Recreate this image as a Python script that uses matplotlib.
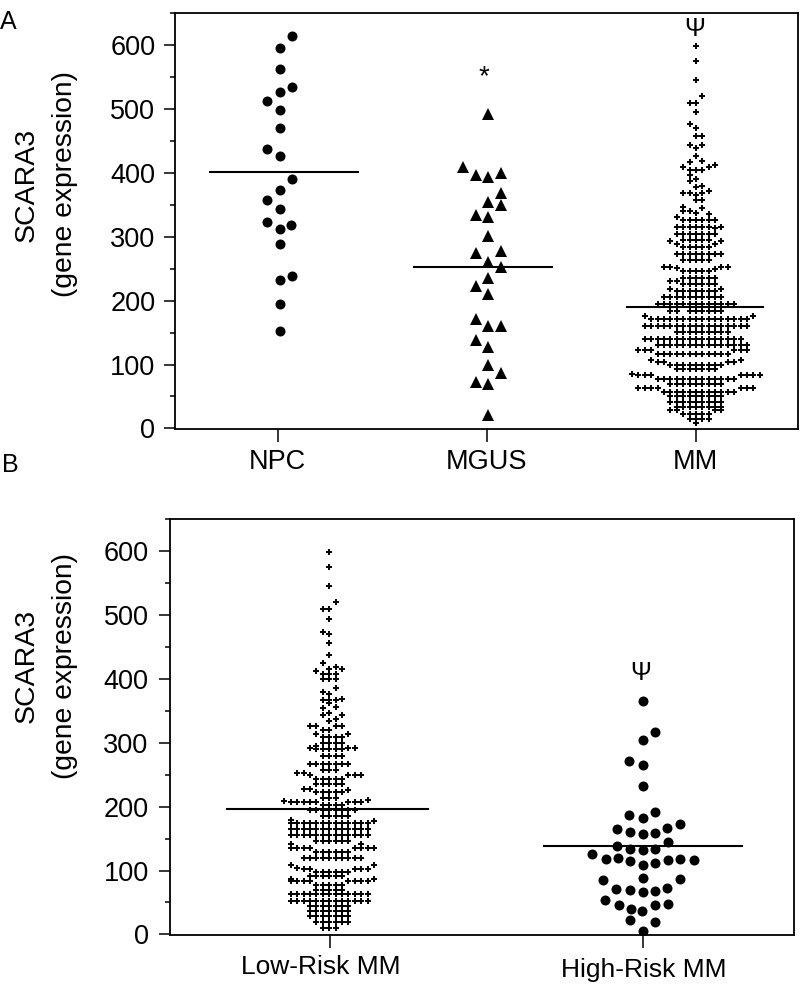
import numpy as np
import matplotlib
matplotlib.use("Agg")
import matplotlib.pyplot as plt
from matplotlib.ticker import MultipleLocator

plt.rcParams['font.family'] = ['Liberation Sans', 'DejaVu Sans']

W, H = 800, 997

# panel A, sparse groups: value and swarm column
npc_values = [615, 596, 563, 535, 527, 512, 498, 470, 438, 427, 390, 373.5, 357, 344, 323, 319, 312, 289, 238, 233, 195, 152]
npc_cols = [1, 0, 0, 1, 0, -1, 0, 0, -1, 0, 1, 0, -1, 0, -1, 0.9, 0, 0, 1, 0, 0, 0]
mgus_values = [493, 409, 396, 393, 400, 368, 354, 350.5, 334, 331, 301.5, 275, 278.5, 260, 252, 236, 223, 211,
               170.6, 161, 161, 139, 128, 99, 86.5, 73, 69, 21]
mgus_cols = [0, -2, -1, 0, 1, 1, 0, 1, -1, 0, 0, -1, 1, 0, 1, 0, -1, 0, -1, 0, 1, -1, 0, 0, 1, -1, 0, 0]

# dense swarms are read row by row: value, first column, last column
mm_values = [599, 576, 546, 521, 510, 495, 476, 471, 458, 443,
             439, 443, 427, 419, 417, 410, 410, 413, 404, 397,
             391, 388, 380, 378, 368, 365, 368, 371, 357, 346,
             345, 341, 337, 331, 336, 326, 316, 315, 314, 305,
             295, 293, 293, 288, 288, 284, 273, 263, 253, 253,
             251, 250, 246, 236, 230, 226, 219, 219, 215, 205,
             195, 184, 184, 176, 176, 171, 171, 171, 161, 151,
             140, 140, 140, 130, 122, 122, 117, 107, 107, 104, 104, 100, 93, 85,
             83, 83, 78, 70, 63, 63, 57, 50, 41, 33, 28, 28, 22, 14,
             9]
mm_first = [0, 0, 0, 1, -1, 0, -1, 0, 0, -1,
            0, 1, 0, 1, -1, -2, 2, 3, -1, -1,
            0, -1, 1, 0, -2, 0, 1, 2, 0, -2,
            1, -2, 0, -3, 2, -2, 4, -3, 3, -3,
            -2, -4, 4, -3, 3, -2, -3, -2, -5, 4,
            -3, 3, -2, -2, -4, -2, -4, 4, -3, -5,
            -6, -4, -1, -8, 9, -7, 6, -4, -8, -3,
            -8, 6, -6, -6, -9, 6, -6, -7, 7, -6, 5, -4, -3, -10,
            -9, 7, -6, -4, -9, 7, -5, -4, -4, -3, -4, 3, -2, -1,
            0]
mm_last = [0, 0, 0, 1, 0, 0, -1, 0, 1, -1,
           0, 1, 0, 1, -1, -2, 2, 3, 1, -1,
           0, -1, 1, 0, -1, 0, 1, 2, 1, -2,
           1, -1, 0, -3, 2, 3, 4, 2, 3, 3,
           2, -4, 4, -3, 3, 2, 4, 2, -4, 5,
           -3, 3, 2, 3, -3, 3, -4, 4, 3, 4,
           6, -3, 4, -8, 9, -5, 8, 5, 8, 5,
           -7, 7, 5, 8, -7, 8, 5, -7, 7, -5, 6, 4, 3, -10,
           -7, 10, 6, 4, -6, 9, 6, 4, 4, 4, -3, 4, 2, 2,
           0]

low_values = [599, 576, 546, 520, 510, 494, 474, 470, 457, 438,
              425, 419, 416, 415, 412, 408, 400, 386, 380,
              376, 369, 367, 362, 356, 354, 347, 343, 343, 338,
              334, 327, 327, 320, 314, 314, 309, 300, 295, 292,
              292, 290, 280, 267, 258, 252, 250, 249, 244, 235,
              228, 226, 223, 214, 209, 207, 210, 207, 207, 202, 195, 185,
              179, 177, 174, 165, 155, 146, 141, 141, 135, 135, 129, 119,
              108, 108, 104, 103, 103, 98, 91, 87, 86, 84, 84, 78, 69, 63,
              53, 45, 37, 29, 20, 10]
low_first = [0, 0, 0, 1, -1, 0, -1, 0, 0, 0,
             -1, 1, 0, 2, -2, -1, -1, 1, -1,
             0, 2, -1, 0, 1, -1, 0, -1, 2, 1,
             0, -3, 1, -1, -2, 3, -1, -1, -2, -3,
             3, -2, -1, -3, -1, -5, 3, -3, -2, -2,
             -4, 3, -2, -1, -7, -6, 6, -4, 3, -1, -3, -1,
             -6, 7, -6, -6, -6, -2, -6, 5, -6, 4, -2, -4,
             -6, 7, -5, -4, 4, -2, -3, -6, 7, -6, 3, -2, -2, -6,
             -6, -3, -3, -3, -2, -1]
low_last = [0, 0, 0, 1, 0, 0, -1, 0, 0, 0,
            -1, 1, 0, 2, -2, 1, 1, 1, -1,
            0, 2, 1, 0, 1, -1, 0, -1, 2, 1,
            0, -2, 2, 0, -2, 3, 2, 2, -2, -3,
            4, 2, 2, 3, 1, -4, 5, -3, 2, 2,
            -3, 3, 2, 1, -7, -5, 6, -2, 5, 2, 4, 3,
            -6, 7, 6, 6, 6, 3, -6, 5, -3, 7, 3, 5,
            -6, 7, -5, -3, 6, 3, 2, -6, 7, -3, 6, 2, 2, 6,
            6, 3, 3, 3, 3, 1]

high_values = [365.7, 317, 304, 272, 265, 233, 187.5, 182, 191, 165.6,
               160, 157, 158, 167, 173.4, 138, 134, 131.6, 133, 144.7,
               126, 117.5, 119, 114.4, 108, 112, 116, 118, 117, 84.6,
               88, 86, 71.5, 69.4, 65.8, 68, 72, 54, 46, 40,
               37, 46.4, 48, 22, 19, 6]
high_cols = [0, 0.95, 0, -1.1, 0, 0, -1.08, 0, 1, -2,
             -1, 0, 1, 1.9, 2.9, -2, -1, 0, 1, 1.95,
             -4, -2.9, -1.95, -1, 0, 1, 1.95, 2.9, 4, -3.1,
             0, 2.9, -2.1, -1, 0, 1, 1.9, -3, -1.9, -0.95,
             -0.1, 1, 1.95, -1, 1, 0]

# group means
panel_a_means = [401, 252, 190]
panel_b_means = [196, 138]

panel_a_labels = ['NPC', 'MGUS', 'MM']
panel_b_labels = ['Low-Risk MM', 'High-Risk MM']


def expand(values, first, last):
    ys, cs = [], []
    for v, a, b in zip(values, first, last):
        for c in range(a, b + 1):
            ys.append(v)
            cs.append(c)
    return np.array(ys), np.array(cs)


def make_axes(fig, left, right, top, bottom, pad):
    ax = fig.add_axes([left / W, 1 - bottom / H, (right - left) / W, (bottom - top) / H])
    for s in ax.spines.values():
        s.set_linewidth(1.3)
    ax.set_ylim(-1, 650)
    ax.yaxis.set_major_locator(MultipleLocator(100))
    ax.yaxis.set_minor_locator(MultipleLocator(50))
    ax.tick_params(axis='y', which='major', length=7.6, width=1.1, labelsize=19.5, pad=pad)
    ax.tick_params(axis='y', which='minor', length=3.7, width=1.1)
    ax.tick_params(axis='x', which='major', length=9.6, width=1.1, labelsize=19.5, pad=5)
    return ax


def px_text(fig, x, y, s, size, **kw):
    fig.text(x / W, 1 - y / H, s, fontsize=size, ha='center', va='center', **kw)


fig = plt.figure(figsize=(W / 100, H / 100), dpi=100)

# A
ax = make_axes(fig, 175, 798, 13.3, 429, 6.5)
ax.set_xlim(0.5086, 3.4895)
ax.set_xticks([1, 2, 3])
ax.set_xticklabels(panel_a_labels)
ax.plot(1.01 + np.array(npc_cols) * 0.0603, npc_values, 'o', color='black', ms=7.2, mew=0)
ax.plot(2.008 + np.array(mgus_cols) * 0.0603, mgus_values, '^', color='black', ms=8.2, mew=0)
mm_y, mm_c = expand(mm_values, mm_first, mm_last)
ax.plot(3.001 + mm_c * 0.0306, mm_y, '+', color='black', ms=4.8, mew=1.4)
for m, cx, hw in zip(panel_a_means, [284, 483, 695], [74, 69, 68]):
    ax.plot([1 + (cx - hw - 277.7) / 209, 1 + (cx + hw - 277.7) / 209], [m, m], color='black', lw=1.5)

px_text(fig, 484, 77.5, '*', 20)
px_text(fig, 695, 29, 'Ψ', 18)
px_text(fig, 8, 22, 'A', 18)

# B
ax = make_axes(fig, 170.3, 794, 519.3, 935, 8)
ax.set_xlim(0.4898, 2.482)
ax.set_xticks([1, 2])
ax.set_xticklabels([])
low_y, low_c = expand(low_values, low_first, low_last)
ax.plot(0.9975 + low_c * 0.02045, low_y, '+', color='black', ms=4.8, mew=1.4)
ax.plot(1.999 + np.array(high_cols) * 0.0405, high_values, 'o', color='black', ms=7.2, mew=0)
for m, cx, hw in zip(panel_b_means, [327.5, 643], [100.5, 99]):
    ax.plot([1 + (cx - hw - 330) / 313, 1 + (cx + hw - 330) / 313], [m, m], color='black', lw=1.5)

px_text(fig, 321, 966.5, panel_b_labels[0], 19)
px_text(fig, 644, 969.5, panel_b_labels[1], 19)
px_text(fig, 641, 673, 'Ψ', 18)
px_text(fig, 10, 465, 'B', 18)

# y labels
px_text(fig, 26.5, 185, 'SCARA3', 20.5, rotation=90)
px_text(fig, 64.5, 184, '(gene expression)', 20.3, rotation=90)
px_text(fig, 26.5, 666, 'SCARA3', 20.5, rotation=90)
px_text(fig, 64.5, 666, '(gene expression)', 20.3, rotation=90)

fig.savefig('out.png', dpi=100)
